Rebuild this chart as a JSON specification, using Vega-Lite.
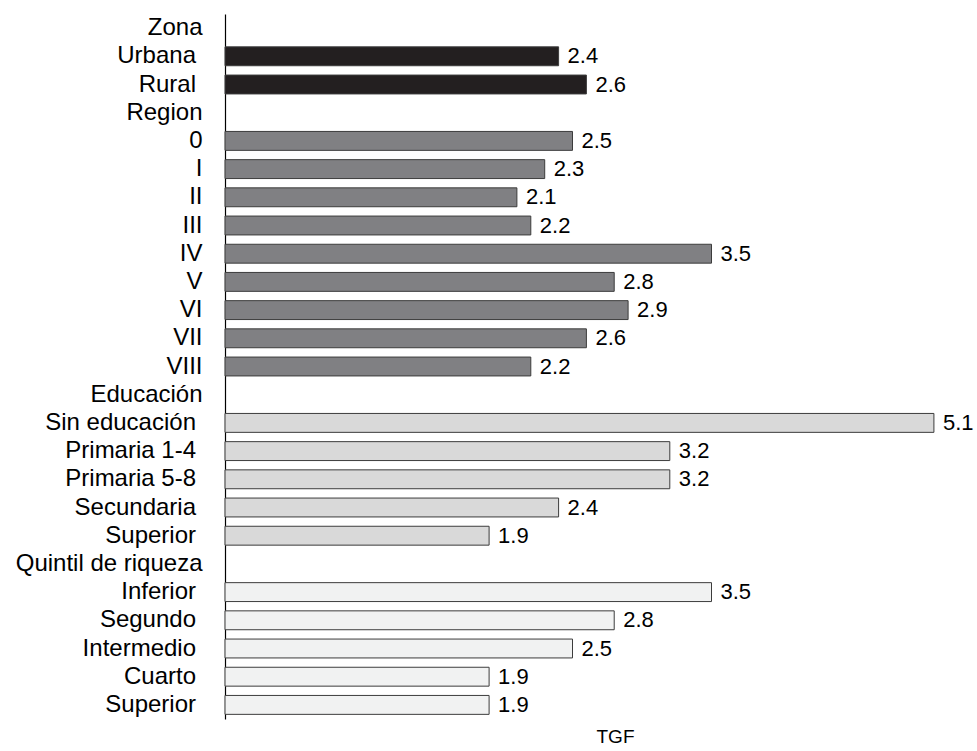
{
  "$schema": "https://vega.github.io/schema/vega-lite/v6.json",
  "autosize": {"type": "none"},
  "padding": {"left": 225, "top": 14, "right": 0, "bottom": 32},
  "width": 752,
  "height": 705,
  "background": "white",
  "config": {
    "view": {"stroke": null},
    "font": "Liberation Sans"
  },
  "data": {
    "values": [
      {"id": "01|Zona", "group": "header", "value": null},
      {"id": "02|Urbana|s", "group": "Zona", "value": 2.4},
      {"id": "03|Rural|s", "group": "Zona", "value": 2.6},
      {"id": "04|Region", "group": "header", "value": null},
      {"id": "05|0", "group": "Region", "value": 2.5},
      {"id": "06|I", "group": "Region", "value": 2.3},
      {"id": "07|II", "group": "Region", "value": 2.1},
      {"id": "08|III", "group": "Region", "value": 2.2},
      {"id": "09|IV", "group": "Region", "value": 3.5},
      {"id": "10|V", "group": "Region", "value": 2.8},
      {"id": "11|VI", "group": "Region", "value": 2.9},
      {"id": "12|VII", "group": "Region", "value": 2.6},
      {"id": "13|VIII", "group": "Region", "value": 2.2},
      {"id": "14|Educación", "group": "header", "value": null},
      {"id": "15|Sin educación|s", "group": "Educacion", "value": 5.1},
      {"id": "16|Primaria 1-4|s", "group": "Educacion", "value": 3.2},
      {"id": "17|Primaria 5-8|s", "group": "Educacion", "value": 3.2},
      {"id": "18|Secundaria|s", "group": "Educacion", "value": 2.4},
      {"id": "19|Superior|s", "group": "Educacion", "value": 1.9},
      {"id": "20|Quintil de riqueza", "group": "header", "value": null},
      {"id": "21|Inferior|s", "group": "Quintil", "value": 3.5},
      {"id": "22|Segundo|s", "group": "Quintil", "value": 2.8},
      {"id": "23|Intermedio|s", "group": "Quintil", "value": 2.5},
      {"id": "24|Cuarto|s", "group": "Quintil", "value": 1.9},
      {"id": "25|Superior|s", "group": "Quintil", "value": 1.9}
    ]
  },
  "encoding": {
    "y": {
      "field": "id",
      "type": "nominal",
      "scale": {
        "domain": ["01|Zona", "02|Urbana|s", "03|Rural|s", "04|Region", "05|0", "06|I", "07|II", "08|III", "09|IV", "10|V", "11|VI", "12|VII", "13|VIII", "14|Educación", "15|Sin educación|s", "16|Primaria 1-4|s", "17|Primaria 5-8|s", "18|Secundaria|s", "19|Superior|s", "20|Quintil de riqueza", "21|Inferior|s", "22|Segundo|s", "23|Intermedio|s", "24|Cuarto|s", "25|Superior|s"],
        "paddingInner": 0.33,
        "paddingOuter": 0.165
      },
      "axis": {
        "title": null,
        "ticks": false,
        "tickSize": 0,
        "labelPadding": {"condition": {"test": "length(split(datum.value, '|')) > 2", "value": 29.5}, "value": 23},
        "labelFontSize": 24,
        "labelLimit": 400,
        "labelColor": "#000000",
        "labelFont": "Liberation Sans",
        "labelExpr": "split(datum.value, '|')[1]",
        "domainColor": "#000000",
        "domainWidth": 1.2,
        "grid": false
      }
    },
    "x": {
      "field": "value",
      "type": "quantitative",
      "scale": {"domain": [0, 5.41], "nice": false, "zero": true},
      "axis": {
        "title": "TGF",
        "domain": false,
        "ticks": false,
        "labels": false,
        "grid": false,
        "titleFontSize": 19,
        "titleFontWeight": "normal",
        "titleColor": "#000000",
        "titleFont": "Liberation Sans",
        "titleX": 390,
        "titleAlign": "center",
        "titlePadding": 8
      }
    }
  },
  "layer": [
    {
      "mark": {"type": "bar", "stroke": "#3c3c3c", "strokeWidth": 1},
      "encoding": {
        "color": {
          "field": "group",
          "type": "nominal",
          "scale": {"domain": ["Zona", "Region", "Educacion", "Quintil"], "range": ["#231f20", "#808083", "#d9d9d9", "#f1f2f2"]},
          "legend": null
        }
      }
    },
    {
      "mark": {"type": "text", "align": "left", "baseline": "middle", "dx": 9, "fontSize": 22, "font": "Liberation Sans", "color": "#000000"},
      "encoding": {
        "text": {"field": "value", "type": "quantitative", "format": ".1f"}
      }
    }
  ]
}
